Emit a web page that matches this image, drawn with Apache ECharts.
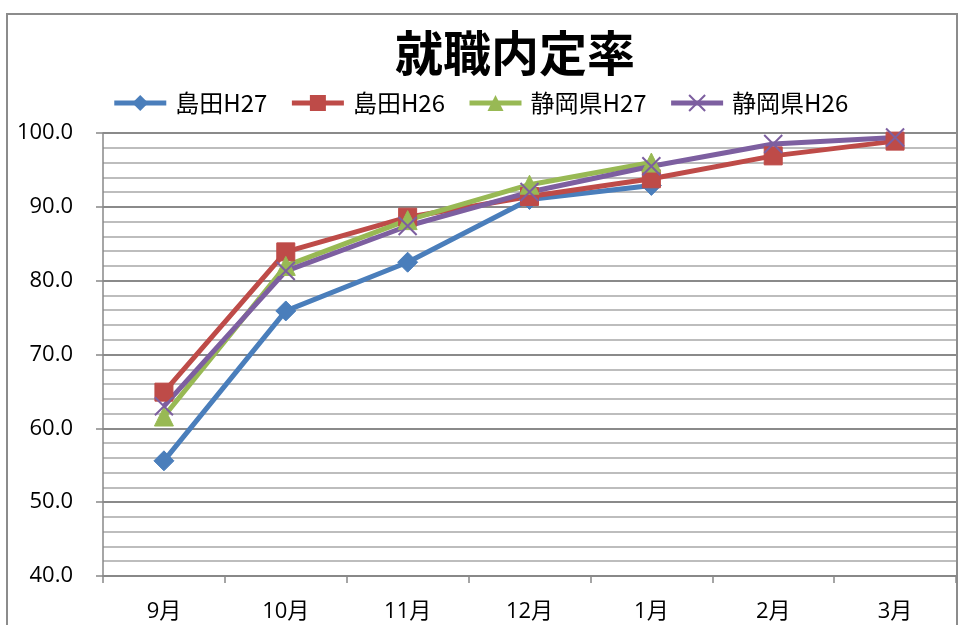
<!DOCTYPE html>
<html><head><meta charset="utf-8">
<script src="https://cdn.jsdelivr.net/npm/echarts@6/dist/echarts.min.js"></script>
<style>html,body{margin:0;padding:0;background:#fff}#c{width:960px;height:625px}</style>
</head><body><div id="c"></div>
<script>
const categories = ['9月','10月','11月','12月','1月','2月','3月'];
const shimadaH27 = [55.6, 75.9, 82.5, 91.0, 92.9, null, null];
const shimadaH26 = [64.9, 83.9, 88.6, 91.4, 93.8, 96.9, 98.9];
const shizuokaH27 = [61.6, 82.0, 88.2, 93.0, 96.0, null, null];
const shizuokaH26 = [63.0, 81.3, 87.4, 92.0, 95.5, 98.5, 99.4];
const yTicks = {min: 40, max: 100, interval: 10};

const FONT = '"Open Sans","Noto Sans CJK JP",sans-serif';
const chart = echarts.init(document.getElementById('c'));
function mk(name, data, color, symbol, size){
  return {name, type:'line', data, symbol, symbolSize:size, connectNulls:false,
    lineStyle:{color, width:5}, itemStyle:{color, borderColor:color},
    emphasis:{disabled:true}, animation:false, z: 3};
}
chart.setOption({
  animation:false,
  title:{text:'就職内定率', left:510, textAlign:'center', top:24,
    textStyle:{fontFamily:'"Noto Sans CJK JP",sans-serif', fontSize:48, fontWeight:'bold', color:'#000'}},
  graphic:[{type:'rect', shape:{x:7, y:14, width:950, height:640},
    style:{fill:'none', stroke:'#8c8c8c', lineWidth:2}, silent:true}],
  legend:{top:86, left:'center', itemWidth:52, itemHeight:20, itemGap:22,
    textStyle:{fontFamily:'"Noto Sans CJK JP",sans-serif', fontSize:24, color:'#000', padding:[0,0,0,4]},
    data:[
      {name:'島田H27', lineStyle:{width:5}},
      {name:'島田H26', lineStyle:{width:5}},
      {name:'静岡県H27', lineStyle:{width:5}},
      {name:'静岡県H26', lineStyle:{width:5}}
    ]},
  grid:{left:103, right:4, top:133, bottom:49},
  xAxis:{type:'category', data:categories, boundaryGap:true,
    axisLine:{lineStyle:{color:'#888', width:1.5}},
    axisTick:{show:true, length:7, lineStyle:{color:'#888', width:1.5}},
    axisLabel:{fontFamily:FONT, fontSize:22, color:'#000', margin:25}},
  yAxis:{type:'value', min:yTicks.min, max:yTicks.max, interval:yTicks.interval,
    axisLine:{show:true, lineStyle:{color:'#888', width:1.5}},
    axisTick:{show:true, length:7, lineStyle:{color:'#888', width:1.5}},
    axisLabel:{fontFamily:FONT, fontSize:22, color:'#000', margin:30, formatter:v=>v.toFixed(1)},
    splitLine:{lineStyle:{color:'#8a8a8a', width:2}},
    minorTick:{show:false, splitNumber:5},
    minorSplitLine:{show:true, lineStyle:{color:'#bdbdbd', width:2}}},
  series:[
    mk('島田H27', shimadaH27, '#4a7ebb', 'diamond', 20),
    mk('島田H26', shimadaH26, '#be4b48', 'rect', 18),
    mk('静岡県H27', shizuokaH27, '#98b954', 'triangle', 19),
    Object.assign(mk('静岡県H26', shizuokaH26, '#7d5fa0', 'path://M0,0L2,2M2,0L0,2', 18),
      {itemStyle:{color:'none', borderColor:'#7d5fa0', borderWidth:2}})
  ]
});
</script></body></html>
